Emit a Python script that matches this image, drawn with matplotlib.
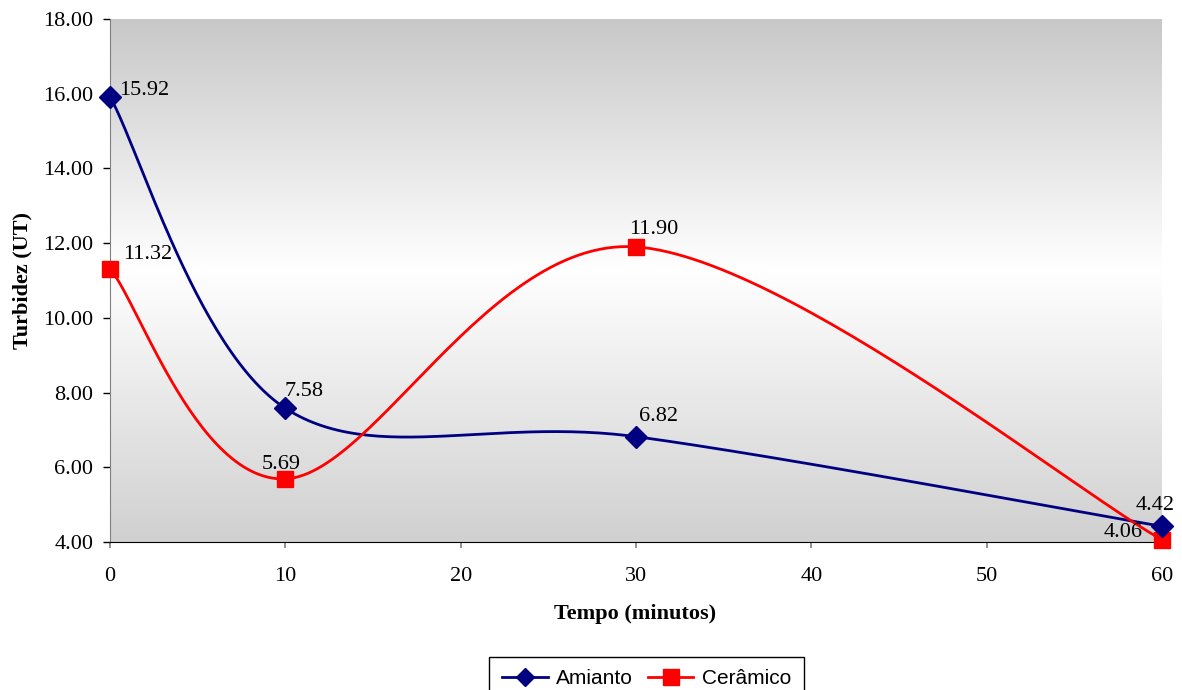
import numpy as np
import matplotlib
matplotlib.use("Agg")
import matplotlib.pyplot as plt
from matplotlib.colors import LinearSegmentedColormap

# Data
tempo = [0, 10, 30, 60]
amianto = [15.92, 7.58, 6.82, 4.42]
ceramico = [11.32, 5.69, 11.90, 4.06]
x_ticks = [0, 10, 20, 30, 40, 50, 60]
y_ticks = [4, 6, 8, 10, 12, 14, 16, 18]

SERIF = "Liberation Serif"
SANS = "Liberation Sans"

fig = plt.figure(figsize=(11.82, 6.90), dpi=100)
ax = fig.add_axes([110 / 1182, 1 - 542 / 690, 1052 / 1182, 523 / 690])
ax.set_xlim(0, 60)
ax.set_ylim(4, 18)

# Vertical gray-white-gray gradient background
cmap = LinearSegmentedColormap.from_list(
    "bg", [(0.0, "#d0d0d0"), (0.52, "#ffffff"), (1.0, "#c8c8c8")])
grad = np.linspace(0, 1, 256).reshape(-1, 1)
ax.imshow(grad, cmap=cmap, aspect="auto", extent=[0, 60, 4, 18],
          origin="lower", zorder=0, interpolation="bicubic")


def smooth(xs, ys, n=60):
    """Catmull-Rom style Bezier smoothing computed in display space."""
    pts = ax.transData.transform(np.column_stack([xs, ys]))
    m = len(pts)
    out = []
    for i in range(m - 1):
        p0 = pts[max(i - 1, 0)]
        p1 = pts[i]
        p2 = pts[i + 1]
        p3 = pts[min(i + 2, m - 1)]
        c1 = p1 + (p2 - p0) / 6.0
        c2 = p2 - (p3 - p1) / 6.0
        t = np.linspace(0, 1, n)[:, None]
        seg = ((1 - t) ** 3) * p1 + 3 * ((1 - t) ** 2) * t * c1 \
            + 3 * (1 - t) * t ** 2 * c2 + t ** 3 * p2
        out.append(seg if i == 0 else seg[1:])
    curve = np.vstack(out)
    data = ax.transData.inverted().transform(curve)
    return data[:, 0], data[:, 1]


navy = "#000080"
red = "#ff0000"

sx, sy = smooth(tempo, amianto)
ax.plot(sx, sy, color=navy, lw=2, zorder=3, clip_on=False)
ax.plot(tempo, amianto, ls="none", marker="D", ms=11, color=navy,
        zorder=5, clip_on=False)
sx, sy = smooth(tempo, ceramico)
ax.plot(sx, sy, color=red, lw=2, zorder=3, clip_on=False)
ax.plot(tempo, ceramico, ls="none", marker="s", ms=11.5, color=red,
        zorder=4, clip_on=False)

# Legend proxies
h1, = ax.plot([], [], color=navy, lw=2, marker="D", ms=9, label="Amianto")
h2, = ax.plot([], [], color=red, lw=2, marker="s", ms=11, label="Cerâmico")

# Value labels (pixel offsets of label centre from the point)
px = 0.72
offs_a = [(34, 6), (19, 17), (23, 20), (-7, 21)]
offs_c = [(38, 14), (-4, 14), (18, 17), (-39, 7)]
for xs, ys, offs in [(tempo, amianto, offs_a), (tempo, ceramico, offs_c)]:
    for x, y, (dx, dy) in zip(xs, ys, offs):
        ax.annotate(f"{y:.2f}", (x, y), xytext=(dx * px, dy * px),
                    textcoords="offset points", ha="center", va="center",
                    fontsize=16, family=SERIF, color="black", zorder=6)

# Axes styling
ax.set_xticks(x_ticks)
ax.set_yticks(y_ticks)
ax.set_yticklabels([f"{v:.2f}" for v in y_ticks])
for lab in ax.get_xticklabels() + ax.get_yticklabels():
    lab.set_fontfamily(SERIF)
    lab.set_fontsize(16)
ax.tick_params(axis="y", direction="out", length=5, width=1, color="black",
               pad=7)
ax.tick_params(axis="x", direction="out", length=4, width=1.2,
               color="#808080", pad=14)
ax.spines["top"].set_visible(False)
ax.spines["right"].set_visible(False)
ax.spines["left"].set_color("#808080")
ax.spines["bottom"].set_color("black")

ax.set_xlabel("Tempo (minutos)", fontsize=16, family=SERIF,
              fontweight="bold")
ax.set_ylabel("Turbidez (UT)", fontsize=16, family=SERIF,
              fontweight="bold")
ax.xaxis.set_label_coords(0.499, -0.138)
ax.yaxis.set_label_coords(-0.0836, 0.50)
ax.xaxis.label.set_va("center")
ax.yaxis.label.set_va("center")

leg = fig.legend(handles=[h1, h2], loc="upper center", ncol=2,
                 bbox_to_anchor=(646.5 / 1182, 1 - 657 / 690),
                 prop={"family": SANS, "size": 15}, frameon=True,
                 fancybox=False, edgecolor="black", framealpha=1,
                 handlelength=2.2, columnspacing=0.7, handletextpad=0.4,
                 borderpad=0.6, borderaxespad=0)
leg.get_frame().set_linewidth(1)

fig.savefig("out.png", dpi=100, facecolor="white")
